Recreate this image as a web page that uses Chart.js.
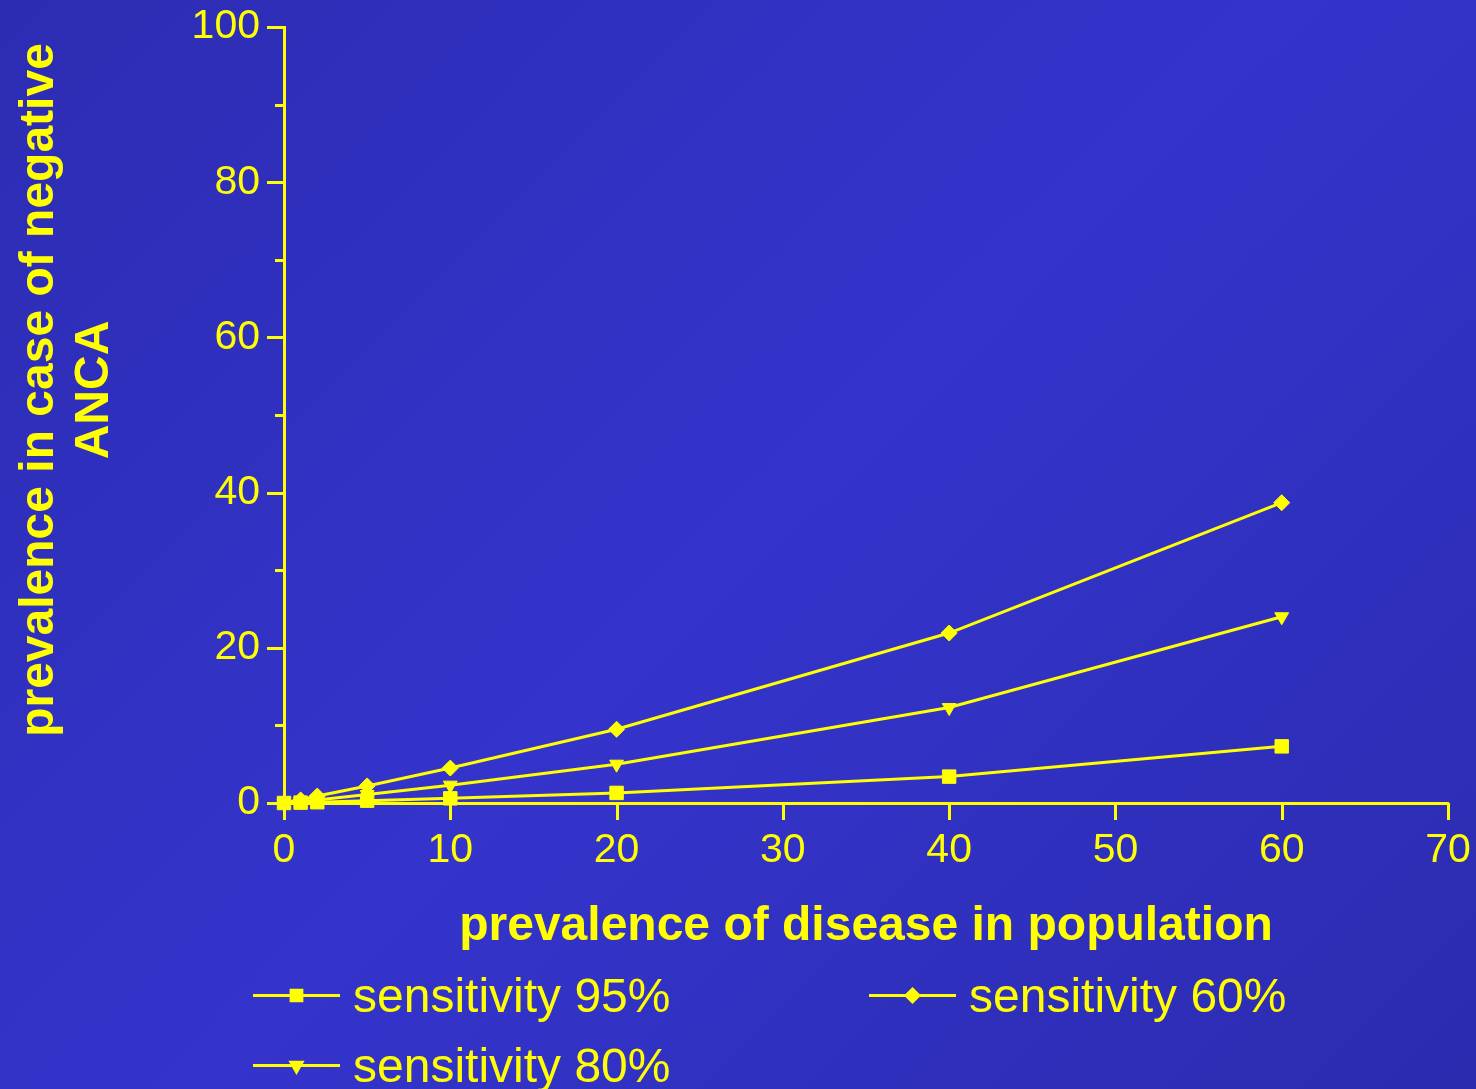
<!DOCTYPE html>
<html>
<head>
<meta charset="utf-8">
<script src="https://cdn.jsdelivr.net/npm/chart.js@4/dist/chart.umd.min.js"></script>
<style>
html, body { margin: 0; padding: 0; width: 1476px; height: 1089px; overflow: hidden; }
body { background: linear-gradient(135deg, #2c2cb3 0%, #3434cc 50%, #2b2bb0 100%); }
canvas { display: block; }
</style>
</head>
<body>
<canvas id="c" width="1476" height="1089"></canvas>
<script>
// Prevalence of disease in the population (%)
const prevalence = [0, 1, 2, 5, 10, 20, 40, 60];
// Prevalence remaining after a negative ANCA result (%)
const sens95 = [0, 0.05, 0.1, 0.3, 0.6, 1.3, 3.4, 7.3];
const sens80 = [0, 0.2, 0.4, 1.1, 2.3, 5.0, 12.3, 24.0];
const sens60 = [0, 0.4, 0.9, 2.2, 4.5, 9.5, 21.9, 38.7];
const seriesLabels = ['sensitivity 95%', 'sensitivity 80%', 'sensitivity 60%'];
const xTitle = 'prevalence of disease in population';
const yTitleLines = ['prevalence in case of negative', 'ANCA'];
const xTicks = [0, 10, 20, 30, 40, 50, 60, 70];
const yTicks = [0, 10, 20, 30, 40, 50, 60, 70, 80, 90, 100];

const YELLOW = '#ffff00';
const FONT = '"Liberation Sans", Arial, Helvetica, sans-serif';

function toPoints(ys) {
  return prevalence.map((x, i) => ({ x: x, y: ys[i] }));
}

const markerStyles = [
  { pointStyle: 'rect', pointRadius: 9.5, rotation: 0 },
  { pointStyle: 'triangle', pointRadius: 8, rotation: 180 },
  { pointStyle: 'rectRot', pointRadius: 8, rotation: 0 }
];

const seriesValues = [sens95, sens80, sens60];

const datasets = seriesValues.map((ys, i) => ({
  label: seriesLabels[i],
  data: toPoints(ys),
  borderColor: YELLOW,
  backgroundColor: YELLOW,
  borderWidth: 3,
  pointStyle: markerStyles[i].pointStyle,
  pointRadius: markerStyles[i].pointRadius,
  pointRotation: markerStyles[i].rotation,
  pointBackgroundColor: YELLOW,
  pointBorderColor: YELLOW,
  pointBorderWidth: 1,
  tension: 0,
  clip: false
}));

// Tick marks, axis titles and the two-column legend
const decorations = {
  id: 'decorations',
  afterDraw(chart) {
    const ctx = chart.ctx;
    const xs = chart.scales.x;
    const ys = chart.scales.y;
    const area = chart.chartArea;
    ctx.save();
    ctx.strokeStyle = YELLOW;
    ctx.fillStyle = YELLOW;
    ctx.lineWidth = 3;
    ctx.lineCap = 'butt';

    // y tick marks: long at labelled values, short in between
    yTicks.forEach(v => {
      const py = Math.round(ys.getPixelForValue(v)) + 0.5;
      const len = v % 20 === 0 ? 17 : 9;
      ctx.beginPath();
      ctx.moveTo(area.left - len, py);
      ctx.lineTo(area.left, py);
      ctx.stroke();
    });
    // x tick marks
    xTicks.forEach(v => {
      const px = Math.round(xs.getPixelForValue(v)) + 0.5;
      ctx.beginPath();
      ctx.moveTo(px, area.bottom);
      ctx.lineTo(px, area.bottom + 17);
      ctx.stroke();
    });

    // x axis title
    ctx.font = 'bold 48px ' + FONT;
    ctx.textAlign = 'center';
    ctx.textBaseline = 'alphabetic';
    ctx.fillText(xTitle, 866, 940);

    // y axis title, two rotated lines
    ctx.save();
    ctx.translate(0, 390);
    ctx.rotate(-Math.PI / 2);
    ctx.fillText(yTitleLines[0], 0, 53);
    ctx.fillText(yTitleLines[1], 0, 108);
    ctx.restore();

    // legend: column-major, two rows
    const colX = [253, 869];
    const rowY = [995, 1065];
    const lineLen = 87;
    ctx.font = '48px ' + FONT;
    ctx.textAlign = 'left';
    ctx.textBaseline = 'alphabetic';
    chart.data.datasets.forEach((ds, i) => {
      const col = Math.floor(i / 2);
      const row = i % 2;
      const x0 = colX[col];
      const y0 = rowY[row];
      ctx.lineWidth = 3;
      ctx.beginPath();
      ctx.moveTo(x0, y0 + 0.5);
      ctx.lineTo(x0 + lineLen, y0 + 0.5);
      ctx.stroke();
      Chart.helpers.drawPoint(ctx, {
        pointStyle: ds.pointStyle,
        rotation: ds.pointRotation,
        radius: ds.pointRadius * 0.8,
        borderWidth: 1
      }, x0 + lineLen / 2, y0 + 0.5);
      ctx.fillText(ds.label, x0 + lineLen + 13, y0 + 17);
    });
    ctx.restore();
  }
};

function clearScalePadding(scale) {
  scale.paddingTop = 0;
  scale.paddingBottom = 0;
  scale.paddingLeft = 0;
  scale.paddingRight = 0;
}

new Chart(document.getElementById('c'), {
  type: 'line',
  data: { datasets: datasets },
  plugins: [decorations],
  options: {
    responsive: false,
    animation: false,
    events: [],
    layout: { autoPadding: false, padding: { top: 27, right: 28, left: 0, bottom: 0 } },
    plugins: {
      legend: { display: false },
      tooltip: { enabled: false },
      title: { display: false }
    },
    scales: {
      x: {
        type: 'linear',
        min: 0,
        max: 70,
        afterFit(scale) { scale.height = 286; clearScalePadding(scale); },
        grid: { display: false },
        border: { display: true, color: YELLOW, width: 3 },
        ticks: {
          stepSize: 10,
          color: YELLOW,
          padding: 15,
          maxRotation: 0,
          font: { family: FONT, size: 41 }
        }
      },
      y: {
        type: 'linear',
        min: 0,
        max: 100,
        afterFit(scale) { scale.width = 284; clearScalePadding(scale); },
        grid: { display: false },
        border: { display: true, color: YELLOW, width: 3 },
        ticks: {
          stepSize: 10,
          color: YELLOW,
          padding: 16,
          font: { family: FONT, size: 41 },
          callback: v => (v % 20 === 0 ? String(v) : '')
        }
      }
    }
  }
});
</script>
</body>
</html>
